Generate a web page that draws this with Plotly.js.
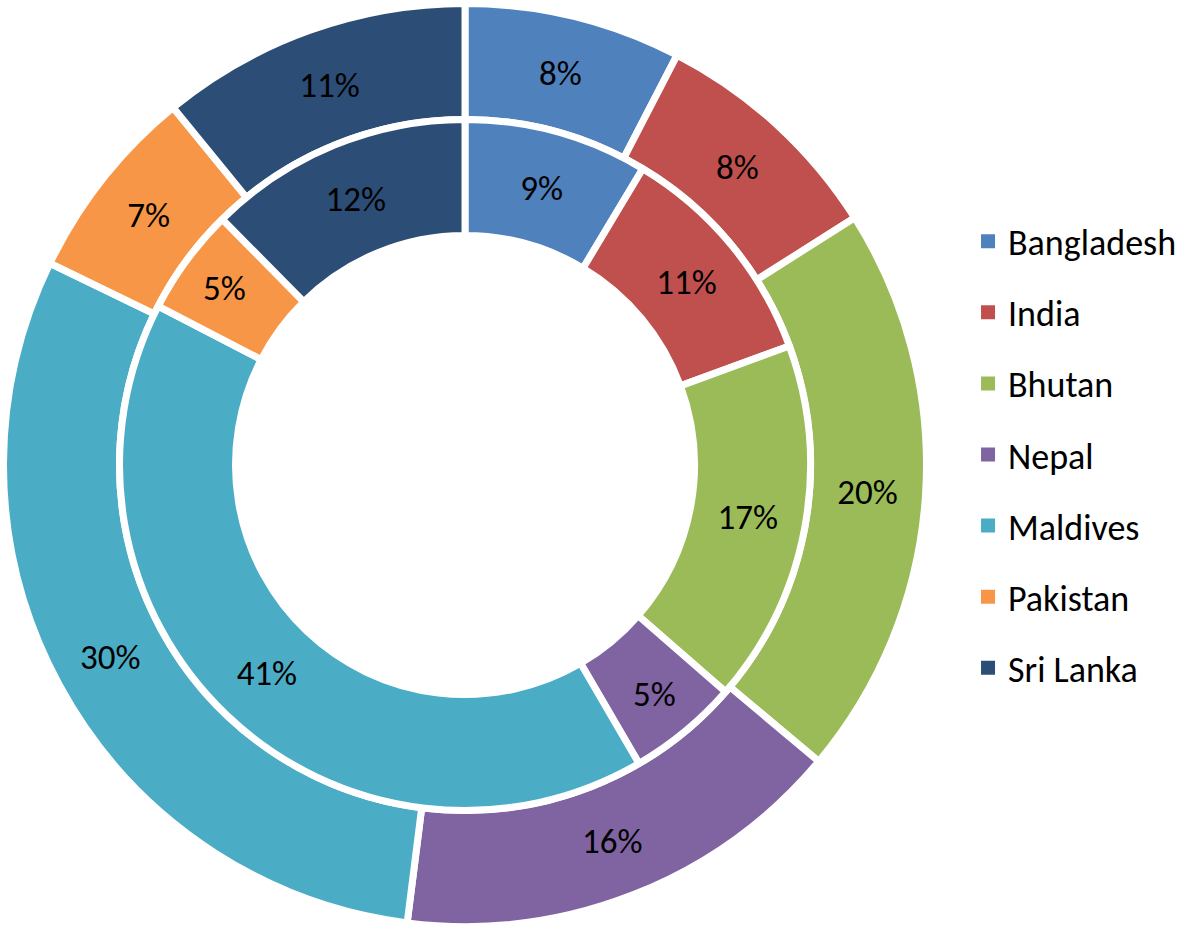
<!DOCTYPE html>
<html>
<head>
<meta charset="utf-8">
<script src="https://cdn.plot.ly/plotly-3.0.1.min.js"></script>
<style>html,body{margin:0;padding:0;background:#fff;}#chart{width:1184px;height:931px;}</style>
</head>
<body>
<div id="chart"></div>
<script>
const countries = ["Bangladesh", "India", "Bhutan", "Nepal", "Maldives", "Pakistan", "Sri Lanka"];
const outerValues = [7.6, 8.4, 20.1, 15.9, 30.2, 6.9, 10.9];
const innerValues = [8.6, 10.8, 17.0, 5.2, 41.0, 5.0, 12.4];
const colors = ["#4F81BD", "#C0504D", "#9BBB59", "#8064A2", "#4BACC6", "#F79646", "#2C4D75"];

const FONT = "Carlito, Lato, 'Open Sans', sans-serif";
const W = 1184, H = 931;
const cx = 465, cy = 465;
const rOuter = 461.5, rMid = 345.5, rInner = 229.5;
function dom(r) {
  return {
    x: [(cx - r) / W, (cx + r) / W],
    y: [1 - (cy + r) / H, 1 - (cy - r) / H]
  };
}

const pieCommon = {
  type: "pie",
  labels: countries,
  sort: false,
  direction: "clockwise",
  rotation: 0,
  marker: { colors: colors, line: { color: "#ffffff", width: 7 } },
  textposition: "inside",
  insidetextorientation: "horizontal",
  texttemplate: "%{percent:.0%}",
  textfont: { family: FONT, size: 35, color: "#000000" },
  showlegend: false,
  hoverinfo: "label+percent"
};

const traces = [
  Object.assign({}, pieCommon, { values: outerValues, hole: rMid / rOuter, domain: dom(rOuter), name: "outer" }),
  Object.assign({}, pieCommon, { values: innerValues, hole: rInner / rMid, domain: dom(rMid), name: "inner" })
];

countries.forEach((c, i) => {
  traces.push({
    type: "scatter",
    mode: "markers",
    x: [null], y: [null],
    name: c,
    legendgroup: "g" + i,
    showlegend: true,
    marker: { symbol: "square", size: 14, color: colors[i] },
    hoverinfo: "skip"
  });
});

const layout = {
  width: W, height: H,
  margin: { l: 0, r: 0, t: 0, b: 0 },
  paper_bgcolor: "#ffffff",
  plot_bgcolor: "#ffffff",
  xaxis: { visible: false, domain: [0.99, 1] },
  yaxis: { visible: false, domain: [0.99, 1] },
  showlegend: true,
  legend: {
    x: 0.8176, xanchor: "left",
    y: 0.5115, yanchor: "middle",
    font: { family: FONT, size: 36, color: "#000000" },
    tracegroupgap: 21.3,
    bgcolor: "rgba(0,0,0,0)",
    itemclick: false
  }
};

Plotly.newPlot("chart", traces, layout, { displayModeBar: false, staticPlot: true });
</script>
</body>
</html>
